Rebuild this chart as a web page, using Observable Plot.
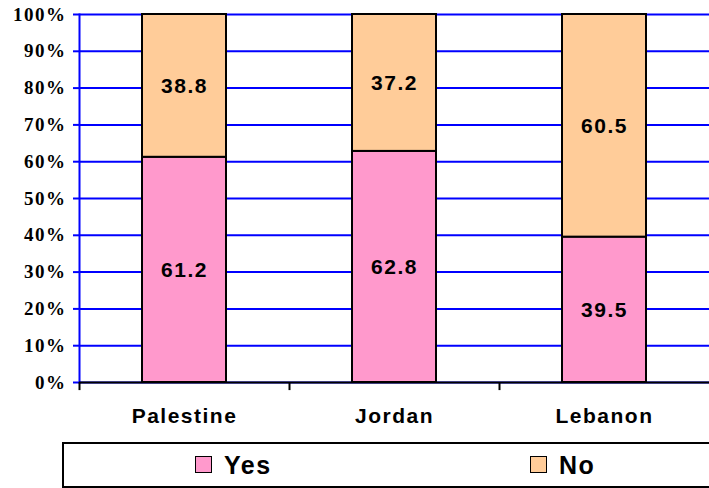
<!DOCTYPE html>
<html><head><meta charset="utf-8">
<script src="https://cdn.jsdelivr.net/npm/d3@7"></script>
<script src="https://cdn.jsdelivr.net/npm/@observablehq/plot@0.6"></script>
<style>
body{margin:0;background:#fff;width:709px;height:488px;overflow:hidden;position:relative;font-family:"Liberation Sans",Arial,sans-serif;}
#chart{position:absolute;left:0;top:0;}
#chart svg text{letter-spacing:1.5px;}
#legend{position:absolute;left:62px;top:442px;width:680px;height:46px;border:2px solid #000;box-sizing:border-box;}
.sw{position:absolute;width:17px;height:17px;border:1.5px solid #000;box-sizing:border-box;}
.lt{position:absolute;font-size:25px;line-height:25px;font-weight:bold;letter-spacing:1.5px;color:#000;}
</style></head>
<body>
<div id="chart"></div>
<div id="legend"></div>
<script>
const countries = ["Palestine", "Jordan", "Lebanon"];
const seriesNames = ["Yes", "No"];
const yesValues = [61.2, 62.8, 39.5];
const noValues = [38.8, 37.2, 60.5];
const seriesColors = ["#FF99CC", "#FFCC99"];
const yTicks = [0, 10, 20, 30, 40, 50, 60, 70, 80, 90, 100];

const rows = [];
countries.forEach((c, i) => {
  rows.push({country: c, series: seriesNames[0], value: yesValues[i]});
  rows.push({country: c, series: seriesNames[1], value: noValues[i]});
});

const W = 709, H = 440;
const chart = Plot.plot({
  width: W, height: H,
  marginLeft: 79, marginRight: 0, marginTop: 14, marginBottom: 58,
  style: {background: "#fff", overflow: "visible"},
  x: {domain: countries, paddingInner: 0.6, paddingOuter: 0.3, label: null},
  y: {domain: [0, 100], label: null},
  color: {domain: seriesNames, range: seriesColors},
  marks: [
    Plot.gridY(yTicks, {stroke: "#0000FF", strokeOpacity: 1, strokeWidth: 2}),
    Plot.axisY(yTicks, {tickSize: 6, tickFormat: () => "", stroke: "#0000FF", strokeWidth: 2, label: null}),
    Plot.frame({anchor: "left", stroke: "#0000FF", strokeWidth: 2}),
    Plot.barY(rows, Plot.stackY({x: "country", y: "value", z: "series", fill: "series", stroke: "#000", strokeWidth: 2})),
    Plot.ruleY([0], {stroke: "#000", strokeWidth: 2}),
    Plot.ruleX(countries, {x: d => d, dx: -105, y1: 0, y2: -2.2, stroke: "#000", strokeWidth: 2}),
    Plot.text(rows, Plot.stackY({x: "country", y: "value", z: "series", text: d => d.value.toFixed(1), fontSize: 21, fontWeight: "bold", fill: "#000", fontFamily: "Liberation Sans"})),
    Plot.text(yTicks, {y: d => d, text: d => d + "%", frameAnchor: "left", dx: -13, textAnchor: "end", fontSize: 19, fontWeight: "bold", fontFamily: "Liberation Serif", fill: "#000"}),
    Plot.axisX({tickSize: 0, tickPadding: 26, fontSize: 21, fontWeight: "bold", fill: "#000", fontFamily: "Liberation Sans", label: null})
  ]
});
document.getElementById("chart").appendChild(chart);

// legend
const legend = document.getElementById("legend");
const legendX = [[193, 222], [528, 557]];
seriesNames.forEach((s, i) => {
  const sw = document.createElement("div");
  sw.className = "sw";
  sw.style.left = (legendX[i][0] - 62) + "px";
  sw.style.top = (456 - 442 - 2) + "px";
  sw.style.background = seriesColors[i];
  legend.appendChild(sw);
  const t = document.createElement("div");
  t.className = "lt";
  t.style.left = (legendX[i][1] - 62) + "px";
  t.style.top = (453 - 442 - 2) + "px";
  t.textContent = s;
  legend.appendChild(t);
});
</script>
</body></html>
